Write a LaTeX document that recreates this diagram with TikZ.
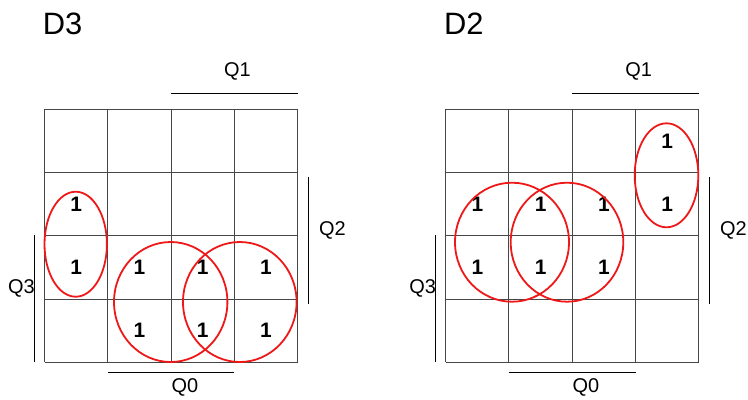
\documentclass[tikz,border=0pt]{standalone}
\usepackage{fontspec}
\setmainfont{Liberation Sans}
\usetikzlibrary{positioning}
\definecolor{loopred}{RGB}{238,24,24}
\definecolor{gridgray}{RGB}{70,70,70}

\begin{document}
\begin{tikzpicture}[x=1bp, y=-1bp,
    cellgrid/.style={gridgray, line width=1bp},
    bar/.style={black, line width=1bp},
    varlbl/.style={font=\fontsize{20}{20}\selectfont, inner sep=0pt},
    maptitle/.style={font=\fontsize{31}{31}\selectfont, inner sep=0pt, anchor=west},
    one/.style={font=\fontsize{21}{21}\selectfont\bfseries, inner sep=0pt},
    grp/.style={draw=loopred, line width=1.8bp}
  ]
  \useasboundingbox (0,0) rectangle (748,399);

  % common frame of both maps
  \foreach \m/\ox/\ttl in {L/44.5/D3, R/445.7/D2} {
    \begin{scope}[shift={(\ox,109.3)}]
      \foreach \i in {0,...,4} {
        \draw[cellgrid] (\i*63.25,0) -- (\i*63.25,253);
        \draw[cellgrid] (0,\i*63.25) -- (253,\i*63.25);
      }
      \node[maptitle] (\m title) at (-1.8,-85.3) {\ttl};
      \coordinate (\m q1a) at (126.5,-16);  \coordinate (\m q1b) at (253,-16);
      \coordinate (\m q2a) at (264,68);     \coordinate (\m q2b) at (264,194.7);
      \coordinate (\m q3a) at (-10,125.7);  \coordinate (\m q3b) at (-10,253);
      \coordinate (\m q0a) at (63.2,263);   \coordinate (\m q0b) at (189.8,263);
      \draw[bar] (\m q1a) -- (\m q1b);
      \draw[bar] (\m q2a) -- (\m q2b);
      \draw[bar] (\m q3a) -- (\m q3b);
      \draw[bar] (\m q0a) -- (\m q0b);
      \node[varlbl] (\m Q1) at (193,-37.6) {Q1};
      \node[varlbl] (\m Q2) at (287.8,120.7) {Q2};
      \node[varlbl] (\m Q3) at (-23,179) {Q3};
      \node[varlbl] (\m Q0) at (140.3,278) {Q0};
    \end{scope}
  }

  % D3
  \begin{scope}[shift={(44.5,109.3)}]
    \foreach \r/\c in {2/1,3/1,3/2,3/3,3/4,4/2,4/3,4/4}
      \node[one] (L\r\c) at ({(\c-0.5)*63.25},{(\r-0.5)*63.25}) {1};
    \draw[grp] (31.2,134.9) ellipse [x radius=31.2bp, y radius=52.5bp];
    \draw[grp] (126.2,192.7) ellipse [x radius=56.7bp, y radius=60bp];
    \draw[grp] (195.3,192.7) ellipse [x radius=56.8bp, y radius=60bp];
  \end{scope}

  % D2
  \begin{scope}[shift={(445.7,109.3)}]
    \foreach \r/\c in {1/4,2/1,2/2,2/3,2/4,3/1,3/2,3/3}
      \node[one] (R\r\c) at ({(\c-0.5)*63.25},{(\r-0.5)*63.25}) {1};
    \draw[grp] (220.8,66) ellipse [x radius=31.8bp, y radius=52bp];
    \draw[grp] (66.3,132.9) ellipse [x radius=57bp, y radius=59.5bp];
    \draw[grp] (121.3,132.9) ellipse [x radius=56.3bp, y radius=59.5bp];
  \end{scope}
\end{tikzpicture}
\end{document}
